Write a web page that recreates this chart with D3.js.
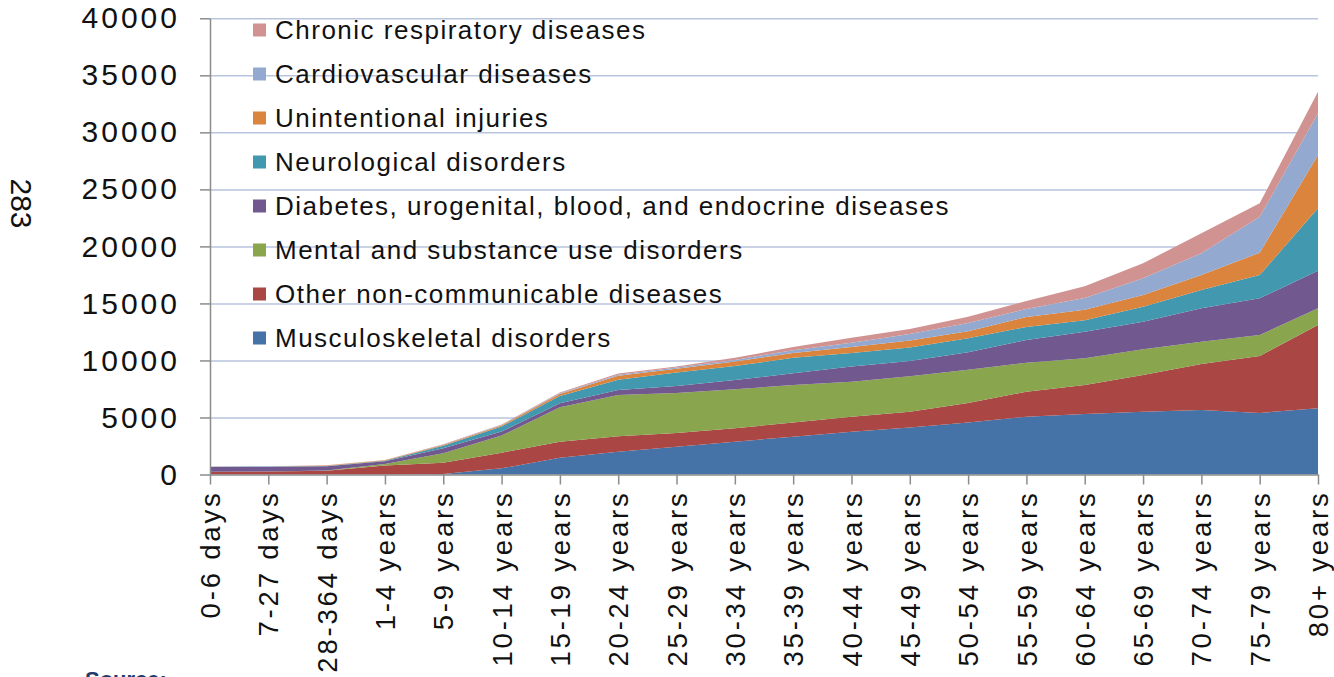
<!DOCTYPE html>
<html>
<head>
<meta charset="utf-8">
<script src="https://cdn.jsdelivr.net/npm/d3@7"></script>
<style>
  body { margin: 0; background: #fff; }
  svg { display: block; font-family: "Liberation Sans", Arial, sans-serif; }
</style>
</head>
<body>
<div id="chart"></div>
<script>
// age groups along the x axis
const categories = ["0-6 days", "7-27 days", "28-364 days", "1-4 years", "5-9 years", "10-14 years",
  "15-19 years", "20-24 years", "25-29 years", "30-34 years", "35-39 years", "40-44 years",
  "45-49 years", "50-54 years", "55-59 years", "60-64 years", "65-69 years", "70-74 years",
  "75-79 years", "80+ years"];

// series, bottom of the stack first
const musculoskeletal = [0, 0, 0, 0, 50, 540, 1470, 2000, 2440, 2880, 3310, 3750, 4120, 4560, 5070, 5300, 5510, 5660, 5400, 5800];
const otherNcd = [250, 260, 330, 780, 980, 1370, 1410, 1350, 1200, 1170, 1250, 1320, 1390, 1710, 2190, 2550, 3210, 4030, 4990, 7310];
const mental = [0, 0, 10, 150, 830, 1500, 3010, 3620, 3510, 3420, 3290, 3070, 3100, 2920, 2540, 2340, 2260, 1960, 1840, 1460];
const diabetes = [400, 420, 380, 230, 440, 350, 350, 440, 600, 810, 1020, 1340, 1350, 1530, 1990, 2330, 2420, 2920, 3220, 3300];
const neurological = [20, 20, 30, 50, 230, 450, 640, 890, 1200, 1240, 1360, 1170, 1180, 1220, 1150, 1000, 1310, 1610, 2040, 5470];
const injuries = [10, 10, 30, 30, 60, 80, 180, 350, 330, 380, 420, 530, 610, 630, 880, 930, 1030, 1310, 1960, 4670];
const cardiovascular = [10, 10, 10, 10, 20, 40, 60, 90, 100, 150, 250, 380, 570, 720, 700, 1030, 1460, 1910, 3150, 3660];
const respiratory = [10, 10, 20, 20, 40, 50, 60, 110, 100, 180, 280, 440, 430, 550, 700, 1020, 1320, 1750, 1180, 1890];

const seriesNames = ["Musculoskeletal disorders", "Other non-communicable diseases",
  "Mental and substance use disorders", "Diabetes, urogenital, blood, and endocrine diseases",
  "Neurological disorders", "Unintentional injuries", "Cardiovascular diseases",
  "Chronic respiratory diseases"];
const seriesValues = [musculoskeletal, otherNcd, mental, diabetes, neurological, injuries, cardiovascular, respiratory];
const seriesColors = ["#4572a7", "#aa4643", "#89a54e", "#71588f", "#4198af", "#db843d", "#93a9cf", "#d19392"];

const yTicks = [0, 5000, 10000, 15000, 20000, 25000, 30000, 35000, 40000];

const w = 1334, h = 677;
const plotLeft = 210, plotRight = 1318, plotTop = 18.3, plotBottom = 474.5;

const svg = d3.select("#chart").append("svg")
  .attr("width", w)
  .attr("height", h);

const x = d3.scalePoint().domain(categories).range([plotLeft, plotRight]);
const y = d3.scaleLinear().domain([0, 40000]).range([plotBottom, plotTop]);

// table for the stack
const rows = categories.map((c, i) => {
  const r = { cat: c };
  seriesNames.forEach((s, k) => r[s] = seriesValues[k][i]);
  return r;
});
const stacked = d3.stack().keys(seriesNames)(rows);

/* gridlines */
svg.append("g")
  .attr("transform", `translate(${plotLeft},0)`)
  .call(d3.axisLeft(y).tickValues(yTicks.slice(1)).tickSize(-(plotRight - plotLeft)).tickFormat(""))
  .call(g => g.select(".domain").remove())
  .call(g => g.selectAll("line").attr("stroke", "#b9c5de").attr("stroke-width", 1.5));

/* stacked areas */
const area = d3.area()
  .x(d => x(d.data.cat))
  .y0(d => y(d[0]))
  .y1(d => y(d[1]));

svg.append("g").selectAll("path")
  .data(stacked)
  .join("path")
  .attr("fill", (d, i) => seriesColors[i])
  .attr("d", area);

/* y axis */
const yAxis = svg.append("g")
  .attr("transform", `translate(${plotLeft},0)`)
  .call(d3.axisLeft(y).tickValues(yTicks).tickSize(10).tickPadding(20).tickSizeOuter(0).tickFormat(d3.format("d")));
yAxis.select(".domain").attr("stroke", "#8c8c8c").attr("stroke-width", 1.5);
yAxis.selectAll("line").attr("stroke", "#8c8c8c").attr("stroke-width", 1.5);
yAxis.selectAll("text")
  .attr("fill", "#111")
  .style("font-size", "30px")
  .style("letter-spacing", "3px");

/* x axis */
const xAxis = svg.append("g")
  .attr("transform", `translate(0,${plotBottom})`)
  .call(d3.axisBottom(x).tickSize(10).tickSizeOuter(0));
xAxis.select(".domain").attr("stroke", "#8c8c8c").attr("stroke-width", 1.5);
xAxis.selectAll("line").attr("stroke", "#8c8c8c").attr("stroke-width", 1.5);
xAxis.selectAll("text")
  .attr("fill", "#111")
  .attr("transform", "rotate(-90)")
  .attr("x", -16)
  .attr("y", 0)
  .attr("dy", "0.35em")
  .attr("text-anchor", "end")
  .style("font-size", "27.5px")
  .style("letter-spacing", "2.8px");

/* legend, top of the stack first */
const legend = svg.append("g").attr("id", "legend");
const legendItems = seriesNames.map((s, i) => ({ name: s, color: seriesColors[i] })).reverse();
legendItems.forEach((d, i) => {
  const cy = 30 + i * 44;
  legend.append("rect")
    .attr("x", 253)
    .attr("y", cy - 6.5)
    .attr("width", 13)
    .attr("height", 13)
    .attr("fill", d.color);
  legend.append("text")
    .attr("x", 275)
    .attr("y", cy)
    .attr("dy", "0.35em")
    .attr("fill", "#111")
    .style("font-size", "26px")
    .style("letter-spacing", "1.5px")
    .text(d.name);
});

// page number, turned on its side
svg.append("text")
  .attr("transform", "translate(21.5,203.5) rotate(90)")
  .attr("text-anchor", "middle")
  .attr("dy", "0.35em")
  .attr("fill", "#111")
  .style("font-size", "30px")
  .text("283");

// cut-off source line at the foot of the page
svg.append("text")
  .attr("x", 85)
  .attr("y", 687)
  .attr("fill", "#1f3b6b")
  .style("font-size", "22px")
  .style("font-weight", "bold")
  .text("Source:");
</script>
</body>
</html>
